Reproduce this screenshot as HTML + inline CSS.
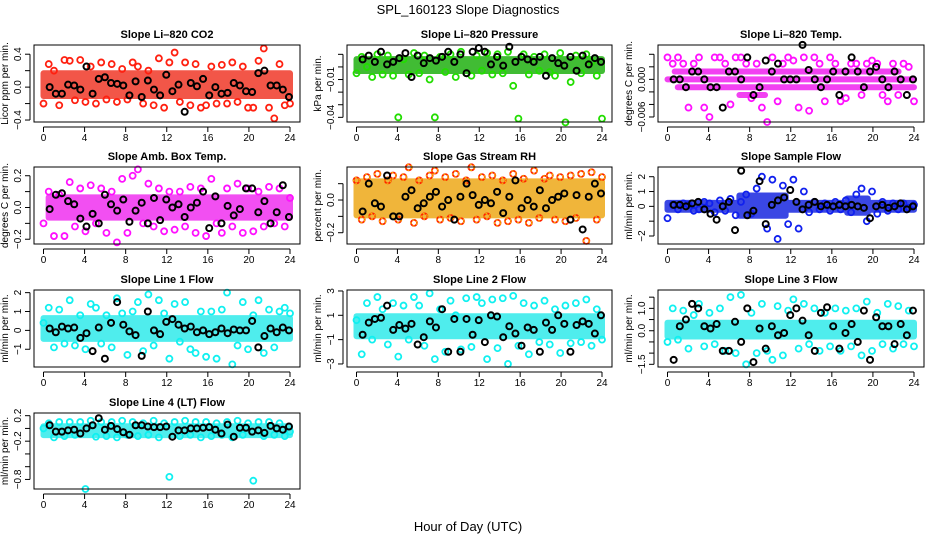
<!DOCTYPE html>
<html><head><meta charset="utf-8"><style>
html,body{margin:0;padding:0;background:#fff;}
svg{display:block;font-family:"Liberation Sans",sans-serif;}
</style></head><body>
<svg id="fig" width="936" height="540" viewBox="0 0 936 540">
<text x="468" y="14" text-anchor="middle" font-size="13">SPL_160123  Slope Diagnostics</text>
<text x="468" y="531" text-anchor="middle" font-size="13">Hour of Day (UTC)</text>
</svg>
<script>
const xTicks=[0,4,8,12,16,20,24];
const co2C=[-0.2,0.28,0.2,-0.22,0.33,0.32,-0.16,0.33,-0.18,0.25,-0.2,0.3,-0.15,0.28,-0.18,0.22,-0.15,0.3,0.25,-0.2,0.2,-0.22,0.35,-0.25,0.3,0.42,-0.18,0.3,-0.22,0.28,-0.25,-0.22,0.25,-0.2,0.27,-0.2,0.3,-0.18,0.25,-0.25,-0.25,0.32,0.47,-0.25,-0.38,0.28,-0.22,-0.2];
const co2K=[0,-0.08,-0.08,0.03,0.02,-0.03,0.25,-0.08,0.1,0.12,0.05,0.04,0.02,-0.1,0.07,-0.12,0.08,-0.03,-0.1,0.15,-0.05,0.03,-0.3,0.05,0.01,0.1,-0.1,0,-0.08,-0.07,0.05,0.02,-0.05,-0.06,0.17,0.2,0.02,0.02,-0.03,-0.12];
const pressC=[-0.005,0.008,0.0,-0.008,0.01,-0.006,0.009,-0.007,-0.04,0.006,-0.006,0.011,-0.005,0.009,-0.01,-0.04,0.008,-0.004,0.01,-0.008,0.012,-0.005,-0.007,0.009,-0.003,0.011,-0.006,0.01,-0.005,0.012,-0.015,-0.041,0.01,-0.006,0.008,-0.003,0.01,-0.004,-0.007,0.011,-0.044,-0.012,0.009,-0.005,0.01,0.004,-0.007,-0.041];
const pressK=[0.006,0.009,0.004,0.012,0.002,0.004,0.007,0.011,-0.008,0.009,0.003,0.007,0.005,0.008,0.012,0.004,0.01,-0.005,0.012,0.015,0.012,0.002,0.008,0.001,0.016,0.004,0.008,0.006,0.004,0.008,-0.007,0.007,0.003,0.001,0.008,-0.003,0.009,0.002,0.007,0.004];
const tempC=[0.0035,0.0025,0.0035,0.0025,-0.0045,0.0025,0.0035,-0.0045,-0.006,0.0035,0.0035,0.0025,-0.004,0.0035,0.0035,0.0025,-0.003,0.0025,-0.0045,-0.0068,0.0035,-0.0035,0.0025,0.0035,0.003,-0.0045,0.0035,-0.005,0.0035,0.0025,-0.0035,0.0035,0.0025,-0.0035,-0.003,0.0025,0.0025,-0.0025,0.0025,0.003,0.0025,-0.0025,-0.0035,0.0025,-0.0025,0.0025,0.002,-0.0035];
const tempK=[0,0,-0.00125,0.00125,0.00125,0,-0.00125,-0.00125,-0.0045,0.00125,0.00125,0,0.0035,-0.0025,-0.00125,0.003,0.00125,0.0025,0,0,0,0.0055,0.0015,0,-0.00125,0,0.00125,-0.0025,0.00125,0.0035,0.00125,-0.00125,0.00125,0.002,0,-0.00125,0.00125,0,-0.0025,0];
const ambC=[-0.1,0.1,-0.18,0.08,-0.18,0.16,-0.12,0.12,-0.15,0.14,-0.1,0.12,-0.16,0.1,-0.22,0.18,-0.16,0.2,0.24,-0.1,0.15,-0.12,0.12,-0.15,0.1,-0.14,0.1,-0.12,0.13,-0.16,0.12,-0.18,0.18,-0.1,-0.16,0.12,-0.12,0.15,-0.16,0.12,-0.15,0.1,-0.12,0.13,-0.1,0.12,-0.12,0.06];
const ambK=[-0.01,0.08,0.09,0.04,0.02,-0.07,-0.12,-0.04,-0.1,0.08,0.02,-0.02,0.05,-0.09,-0.02,0.03,-0.1,0.06,-0.08,0.05,0.0,0.02,-0.06,0,0.03,0.1,-0.13,0.07,-0.1,0.01,-0.05,-0.01,0.12,0.12,-0.03,0.04,-0.1,-0.03,0.14,-0.06];
const rhC=[0.12,-0.12,0.14,-0.1,0.16,-0.13,0.12,0.15,-0.12,0.14,0.2,-0.14,0.12,-0.1,0.15,0.18,-0.12,0.14,-0.11,0.16,-0.13,0.12,0.2,-0.12,0.14,-0.1,0.15,-0.14,0.12,-0.13,0.16,-0.12,0.13,-0.14,0.18,-0.11,0.13,0.15,-0.12,0.14,-0.13,0.15,-0.11,0.16,-0.25,0.17,-0.12,0.14];
const rhK=[-0.07,0.1,-0.02,-0.04,0.15,-0.1,-0.1,0.02,0.06,-0.05,-0.02,0.02,0.05,-0.04,0.0,-0.12,0.02,0.1,0.03,-0.03,0.0,-0.02,0.05,-0.08,0.02,0.12,-0.05,0.0,-0.04,0.06,-0.05,0.0,0.02,0.04,-0.12,0.03,-0.18,0.02,0.1,0.04];
const sampC=[-0.8,0.1,-0.2,0.2,0.1,-0.3,-0.2,0.3,0.2,-0.4,0.4,-0.3,0.5,-0.6,0.3,0.8,-0.5,1.2,2.0,-1.5,1.8,-2.2,1.4,-1.2,1.8,-1.5,1.0,-0.4,0.3,-0.2,0.2,-0.3,0.3,-0.2,0.4,-0.4,0.8,1.2,-1.0,1.0,-0.5,0.3,-0.3,0.2,-0.2,0.2,-0.1,0.1];
const sampK=[0.1,0.1,0.0,0.2,0.3,-0.2,-0.5,-0.9,0.0,0.3,-1.6,2.4,-0.6,-0.3,1.7,-1.2,0.1,0.4,0.6,1.1,0.3,-0.2,0.1,0.3,0.0,0.1,0.0,0.1,0.0,0.1,0.0,-0.1,-0.8,0.0,0.1,-0.1,0.0,0.2,-0.2,0.0];
const l1C=[0.4,1.2,-0.9,1.1,-0.7,1.6,-0.8,0.8,-1.0,1.4,1.2,-0.7,0.8,-0.9,1.7,0.9,-1.3,1.0,1.5,-1.1,1.9,-0.8,1.6,0.9,-1.5,1.4,-0.6,1.5,-1.0,-1.2,1.0,-1.4,1.0,-1.5,1.1,2.0,-1.8,-0.8,1.5,-1.0,0.8,1.6,-1.2,1.1,-0.9,1.0,1.2,0.9];
const l1K=[0.1,-0.1,0.2,0.1,0.15,-0.4,-0.15,-1.1,0.15,-1.5,0.4,1.5,0.3,-0.05,-0.25,-1.35,1.0,0.0,-0.2,0.45,0.6,0.3,0.1,0.2,-0.1,0.0,-0.2,-0.1,0.1,-0.15,0.05,0.0,0.0,0.5,-0.9,-0.3,0.1,-0.1,0.15,0.0];
const l2C=[0.6,-2.2,2.0,-1.0,2.5,1.5,-1.4,2.0,-2.4,1.8,-1.0,2.5,1.8,-1.5,2.8,-2.6,1.5,-2.0,2.2,1.0,-1.8,2.4,-1.6,2.5,2.0,-2.6,2.3,-1.7,2.4,-3.0,2.6,-1.5,2.0,-2.2,1.8,-1.2,2.2,-1.4,1.5,-2.1,1.8,-1.3,2.0,-1.2,2.3,-1.5,1.5,-1.0];
const l2K=[-0.6,0.4,0.7,0.8,1.8,-0.2,0.2,-0.1,0.3,-1.4,-0.8,0.5,0.0,1.5,-2.0,0.7,-2.0,0.7,-0.6,0.6,-1.2,1.0,0.9,-0.8,0.1,-0.5,-1.5,0.0,-0.2,-2.0,0.4,-0.2,1.0,0.3,-2.0,0.2,0.5,0.3,-0.5,1.0];
const l3C=[-0.5,1.0,-0.4,0.9,-0.8,0.7,1.2,-0.7,0.8,-0.6,1.0,-0.9,1.5,-1.0,1.6,-1.5,0.8,-1.0,1.2,-0.9,-1.3,1.1,-1.1,0.9,1.4,-0.8,1.2,-0.6,1.0,-0.9,0.8,-0.7,1.0,-0.9,0.9,-0.7,1.0,-1.1,1.3,-0.9,0.8,-0.6,1.2,-0.8,1.1,-0.6,0.9,-0.7];
const l3K=[-1.3,0.2,0.5,1.2,1.0,0.2,0.1,0.3,-0.9,-0.9,0.4,-0.5,1.0,-1.4,0.1,-0.8,0.2,-0.2,-0.1,0.7,1.0,0.45,-0.2,-0.9,0.8,1.05,0.2,-0.8,-0.1,0.3,-0.5,0.9,-1.3,0.6,0.2,0.2,-0.6,0.3,-0.2,0.9];
const l4C=[0.0,0.08,-0.14,0.1,-0.12,0.1,-0.1,0.1,-0.95,0.12,-0.13,0.1,-0.12,0.1,-0.14,0.12,-0.1,0.1,-0.12,0.08,-0.1,0.12,-0.14,0.08,-0.76,0.1,-0.12,0.12,-0.1,0.1,-0.14,0.1,-0.12,0.08,-0.1,0.1,-0.14,0.12,-0.1,0.08,-0.82,0.1,-0.12,0.1,-0.1,0.08,-0.12,-0.05];
const l4K=[0.05,-0.05,-0.05,-0.03,-0.02,-0.08,0.0,0.05,0.16,-0.02,0.04,-0.01,-0.06,-0.1,0.05,0.05,0.03,0.02,0.02,0.03,-0.13,-0.03,-0.03,0.0,0.0,0.01,0.02,-0.02,-0.08,0.06,-0.13,0.01,0.01,-0.05,-0.03,-0.07,0.04,0.0,-0.02,0.03];
// dense-cloud bands: [lo, hi, t0, t1]
const co2Bands=[[-0.12,0.18,0,24]];
const pressBands=[[-0.004,0.007,0,24]];
const tempBands=[[0.0011,0.0014,0.7,22.5],[-0.0001,0.0001,0,24],[-0.0014,-0.0011,1,24],[-0.0026,-0.0024,7,9.5]];
const ambBands=[[-0.07,0.07,0.5,24]];
const rhBands=[[-0.1,0.12,0,24]];
const sampBands=[[-0.3,0.3,0,24],[-0.7,0.8,7,11.5],[-0.5,0.6,17.5,19.5]];
const l1Bands=[[-0.5,0.7,0,24]];
const l2Bands=[[-0.8,1.0,0,24]];
const l3Bands=[[-0.3,0.4,0,24]];
const l4Bands=[[-0.12,0.05,0,24]];

const cols=[[34,300],[347,612],[658,924]];
const rows=[[45,122],[167,244],[290,367],[413,489]];
const panels=[
 {name:'co2',title:'Slope Li\u2013820 CO2',ylab:'Licor ppm per min.',r:0,c:0,ymin:-0.424,ymax:0.512,ticks:[-0.4,-0.2,0,0.2,0.4],labels:{'-0.4':'\u22120.4','0':'0.0','0.4':'0.4'},col:'#ff2010',band:'#f03828',C:co2C,K:co2K,B:co2Bands},
 {name:'pressure',title:'Slope Li\u2013820 Pressure',ylab:'kPa per min.',r:0,c:1,ymin:-0.0437,ymax:0.0174,ticks:[-0.04,-0.03,-0.02,-0.01,0,0.01],labels:{'-0.04':'\u22120.04','-0.01':'\u22120.01'},col:'#22dd00',band:'#20b010',C:pressC,K:pressK,B:pressBands},
 {name:'temp',title:'Slope Li\u2013820 Temp.',ylab:'degrees C per min.',r:0,c:2,ymin:-0.0068,ymax:0.00548,ticks:[-0.006,-0.004,-0.002,0,0.002,0.004],labels:{'-0.006':'\u22120.006','0':'0.000'},col:'#ff10ff',band:'#f020f0',C:tempC,K:tempK,B:tempBands,thin:true},
 {name:'amb-box-temp',title:'Slope Amb. Box Temp.',ylab:'degrees C per min.',r:1,c:0,ymin:-0.23,ymax:0.255,ticks:[-0.2,-0.1,0,0.1,0.2],labels:{'-0.2':'\u22120.2','0':'0.0','0.2':'0.2'},col:'#ff10ff',band:'#f030f0',C:ambC,K:ambK,B:ambBands},
 {name:'rh',title:'Slope Gas Stream RH',ylab:'percent per min.',r:1,c:1,ymin:-0.269,ymax:0.202,ticks:[-0.2,-0.1,0,0.1],labels:{'-0.2':'\u22120.2','0':'0.0'},col:'#f5c000',band:'#eda818',C:rhC,K:rhK,B:rhBands,ring:'#ff2000'},
 {name:'sample-flow',title:'Slope Sample Flow',ylab:'ml/min per min.',r:1,c:2,ymin:-2.54,ymax:2.655,ticks:[-2,-1,0,1,2],labels:{'-2':'\u22122','0':'0','1':'1','2':'2'},col:'#1020ee',band:'#1828e0',C:sampC,K:sampK,B:sampBands},
 {name:'line1-flow',title:'Slope Line 1 Flow',ylab:'ml/min per min.',r:2,c:0,ymin:-1.94,ymax:2.14,ticks:[-1,0,1,2],labels:{'-1':'\u22121','0':'0','1':'1','2':'2'},col:'#10f0f0',band:'#30eaea',C:l1C,K:l1K,B:l1Bands},
 {name:'line2-flow',title:'Slope Line 2 Flow',ylab:'ml/min per min.',r:2,c:1,ymin:-3.25,ymax:3.08,ticks:[-3,-1,1,3],labels:{'-3':'\u22123','-1':'\u22121','1':'1','3':'3'},col:'#10f0f0',band:'#30eaea',C:l2C,K:l2K,B:l2Bands},
 {name:'line3-flow',title:'Slope Line 3 Flow',ylab:'ml/min per min.',r:2,c:2,ymin:-1.62,ymax:1.82,ticks:[-1.5,-1,-0.5,0,0.5,1,1.5],labels:{'-1.5':'\u22121.5','0':'0.0','1':'1.0'},col:'#10f0f0',band:'#30eaea',C:l3C,K:l3K,B:l3Bands},
 {name:'line4-flow',title:'Slope Line 4 (LT) Flow',ylab:'ml/min per min.',r:3,c:0,ymin:-0.95,ymax:0.242,ticks:[-0.8,-0.6,-0.4,-0.2,0,0.2],labels:{'-0.8':'\u22120.8','-0.2':'\u22120.2','0.2':'0.2'},col:'#10f0f0',band:'#30eaea',C:l4C,K:l4K,B:l4Bands}
];
const NS='http://www.w3.org/2000/svg';
const svg=document.getElementById('fig');
function mk(tag,attrs,parent){const e=document.createElementNS(NS,tag);for(const k in attrs)e.setAttribute(k,attrs[k]);parent.appendChild(e);return e;}
panels.forEach(p=>{
 const [L,R]=cols[p.c],[T,B]=rows[p.r];
 const x0=L+9.5,x1=R-10;
 const xs=t=>x0+(x1-x0)*t/24;
 const ys=v=>B-(v-p.ymin)/(p.ymax-p.ymin)*(B-T);
 const g=mk('g',{},svg);
 
 
 const tt=mk('text',{x:(L+R)/2,y:T-7,'text-anchor':'middle','font-size':'11','font-weight':'bold'},g);
 tt.textContent=p.title;
 
 
 const cg=mk('g',{opacity:0.85},g);
 
 
 p.B.forEach(b=>{
  let ya=ys(b[1]),yb=ys(b[0]);
  if(yb-ya<6){const m=(ya+yb)/2;ya=m-3;yb=m+3;}
  const pad=p.thin?0:2;
  const r=mk('rect',{x:xs(b[2])-3,y:ya-pad,width:xs(b[3])-xs(b[2])+6,height:yb-ya+2*pad,fill:p.band,rx:3},cg);
  
  
 });
 const n=p.C.length;
 p.C.forEach((v,i)=>{
  const c=mk('circle',{cx:xs(i*24/(n-1)),cy:ys(v),r:3,fill:'none',stroke:p.ring||p.col,'stroke-width':1.8},g);
  
  
  if(p.ring){mk('circle',{cx:xs(i*24/(n-1)),cy:ys(v),r:3,fill:'none',stroke:p.col,'stroke-width':1,'stroke-dasharray':'2 2'},g);}
 });
 const m=p.K.length;
 p.K.forEach((v,i)=>{
  const c=mk('circle',{cx:xs(0.6+i*23.3/(m-1)),cy:ys(v),r:3,fill:'none',stroke:'#000','stroke-width':2},g);
  
  
 });
 const box=mk('rect',{x:L,y:T,width:R-L,height:B-T,fill:'none',stroke:'#000','stroke-width':1},g);
 
 
 const xa=mk('g',{},g);
 
 
 mk('line',{x1:xs(0),x2:xs(24),y1:B+5,y2:B+5,stroke:'#000'},xa);
 xTicks.forEach(t=>{
  mk('line',{x1:xs(t),x2:xs(t),y1:B+5,y2:B+10,stroke:'#000'},xa);
  const tx=mk('text',{x:xs(t),y:B+19,'text-anchor':'middle','font-size':'10'},xa);
  tx.textContent=t;
  
  
 });
 const ya=mk('g',{},g);
 
 
 const tv=p.ticks;
 mk('line',{x1:L-4,x2:L-4,y1:ys(tv[0]),y2:ys(tv[tv.length-1]),stroke:'#000'},ya);
 tv.forEach(v=>{
  mk('line',{x1:L-9,x2:L-4,y1:ys(v),y2:ys(v),stroke:'#000'},ya);
  const lab=p.labels[String(v)];
  if(lab){
   const tx=mk('text',{x:0,y:0,'text-anchor':'middle','font-size':'10',transform:`translate(${L-13},${ys(v)}) rotate(-90)`},ya);
   tx.textContent=lab;
   
   
  }
 });
 const yl=mk('text',{x:0,y:0,'text-anchor':'middle','font-size':'10',transform:`translate(${L-26},${(T+B)/2}) rotate(-90)`},g);
 yl.textContent=p.ylab;
 
 
});
</script>
</body></html>
